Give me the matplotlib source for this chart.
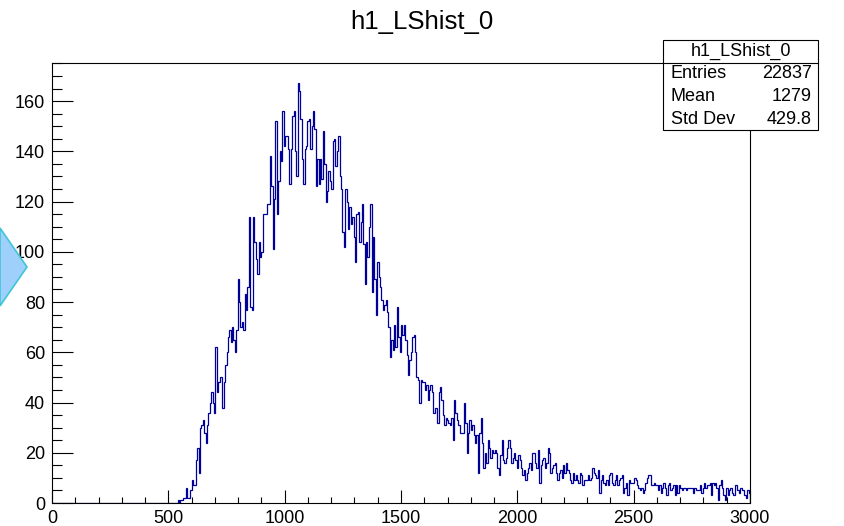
import numpy as np
import matplotlib.pyplot as plt
from matplotlib.patches import Rectangle, Polygon
from matplotlib.lines import Line2D

title = "h1_LShist_0"
x_min, x_max, n_bins = 0, 3000, 500

# bin contents (bin width 6), bins 0..89 are empty
counts = [0] * 90 + [
    1, 0, 1, 1, 2, 2, 6, 2, 2, 5,
    9, 7, 7, 17, 22, 12, 30, 31, 33, 28,
    24, 31, 36, 40, 44, 40, 36, 62, 44, 48,
    50, 50, 38, 48, 55, 60, 66, 69, 64, 70,
    65, 60, 69, 89, 80, 70, 72, 69, 83, 77,
    86, 114, 78, 77, 114, 104, 97, 91, 104, 98,
    100, 115, 115, 115, 119, 119, 138, 126, 101, 121,
    152, 115, 128, 140, 136, 156, 142, 146, 146, 141,
    127, 141, 154, 156, 140, 130, 167, 164, 153, 137,
    127, 141, 142, 152, 153, 141, 150, 156, 149, 126,
    137, 127, 137, 129, 148, 135, 120, 124, 132, 128,
    125, 144, 145, 134, 140, 146, 130, 125, 108, 102,
    125, 120, 109, 118, 111, 114, 106, 96, 115, 116,
    104, 112, 119, 103, 87, 104, 98, 110, 119, 84,
    106, 89, 75, 96, 90, 86, 81, 77, 79, 81,
    76, 70, 58, 65, 61, 71, 62, 78, 66, 60,
    71, 67, 71, 65, 59, 51, 57, 60, 66, 67,
    60, 50, 49, 40, 49, 48, 48, 45, 47, 41,
    45, 47, 44, 36, 38, 38, 32, 44, 46, 41,
    35, 31, 34, 33, 32, 31, 34, 25, 41, 36,
    33, 31, 28, 28, 28, 40, 32, 20, 28, 33,
    29, 31, 27, 24, 27, 12, 28, 34, 24, 14,
    20, 16, 25, 22, 18, 21, 20, 21, 20, 14,
    11, 19, 25, 17, 16, 18, 22, 25, 22, 16,
    18, 20, 17, 14, 19, 17, 14, 11, 13, 9,
    12, 14, 16, 13, 20, 20, 16, 14, 21, 8,
    15, 17, 18, 14, 16, 22, 20, 12, 14, 15,
    16, 12, 9, 12, 13, 10, 15, 12, 16, 13,
    12, 9, 8, 12, 9, 11, 9, 8, 12, 11,
    7, 9, 9, 9, 11, 9, 10, 14, 12, 11,
    10, 13, 4, 9, 11, 8, 7, 9, 7, 11,
    12, 8, 7, 9, 11, 7, 9, 10, 11, 4,
    6, 8, 3, 9, 8, 8, 8, 10, 9, 7,
    6, 5, 6, 4, 5, 8, 10, 11, 11, 7,
    7, 8, 7, 7, 5, 7, 4, 6, 8, 6,
    3, 7, 8, 5, 6, 7, 3, 7, 4, 7,
    6, 5, 6, 6, 5, 6, 6, 6, 6, 4,
    6, 5, 5, 5, 7, 4, 6, 8, 6, 7,
    7, 8, 3, 8, 7, 8, 6, 1, 7, 9,
    6, 3, 1, 6, 3, 5, 6, 4, 3, 7,
    7, 5, 4, 6, 5, 5, 3, 2, 5, 4,
]

stat_names = ["Entries", "Mean", "Std Dev"]
stat_values = ["22837", "1279", "429.8"]

plt.rcParams['font.family'] = ['Liberation Sans', 'DejaVu Sans']

W, H = 844, 526


def fx(x):
    return x / W


def fy(y):
    return 1 - y / H


fig = plt.figure(figsize=(W / 100, H / 100), dpi=100)
ax = fig.add_axes([fx(52), fy(503), (750 - 52) / W, (503 - 62.5) / H])

edges = np.linspace(x_min, x_max, n_bins + 1)
ax.stairs(counts, edges, color='#000099', lw=0.9)

ax.set_xlim(x_min, x_max)
ax.set_ylim(0, 1.05 * max(counts))
ax.set_xticks(np.arange(0, 3001, 500))
ax.set_xticks(np.arange(0, 3001, 100), minor=True)
ax.set_yticks(np.arange(0, 161, 20))
ax.set_yticks(np.arange(0, 176, 5), minor=True)
ax.tick_params(which='both', direction='in', top=False, right=False,
               labelsize=13, pad=5, width=0.8)
ax.tick_params(axis='y', which='major', length=15)
ax.tick_params(axis='y', which='minor', length=7.5)
ax.tick_params(axis='x', which='major', length=9.5)
ax.tick_params(axis='x', which='minor', length=4.5)
for s in ax.spines.values():
    s.set_linewidth(0.8)

fig.text(0.5, fy(22), title, ha='center', va='center', fontsize=18.5)

# stats box
bx0, bx1, by0, by1 = 663, 818, 40, 130
box = Rectangle((fx(bx0), fy(by1)), (bx1 - bx0) / W, (by1 - by0) / H,
                transform=fig.transFigure,
                facecolor='white', edgecolor='black', lw=0.8, zorder=5)
fig.add_artist(box)
fig.add_artist(Line2D([fx(bx0), fx(bx1)], [fy(62.5), fy(62.5)],
                      transform=fig.transFigure, color='black', lw=0.8, zorder=6))
fig.text(fx((bx0 + bx1) / 2), fy(51), title, ha='center', va='center',
         fontsize=13, zorder=7)
for k, (name, val) in enumerate(zip(stat_names, stat_values)):
    yy = 74 + k * 22.5
    fig.text(fx(671), fy(yy), name, ha='left', va='center', fontsize=13, zorder=7)
    fig.text(fx(812), fy(yy), val, ha='right', va='center', fontsize=13, zorder=7)

# partial diamond marker at the left edge
diamond = Polygon([[fx(0), fy(228)], [fx(27), fy(267)], [fx(0), fy(306)]],
                  closed=True, transform=fig.transFigure,
                  facecolor='#9fd0fb', edgecolor='#3ec6d6', lw=1.2)
fig.add_artist(diamond)

fig.savefig('out.png', dpi=100)
